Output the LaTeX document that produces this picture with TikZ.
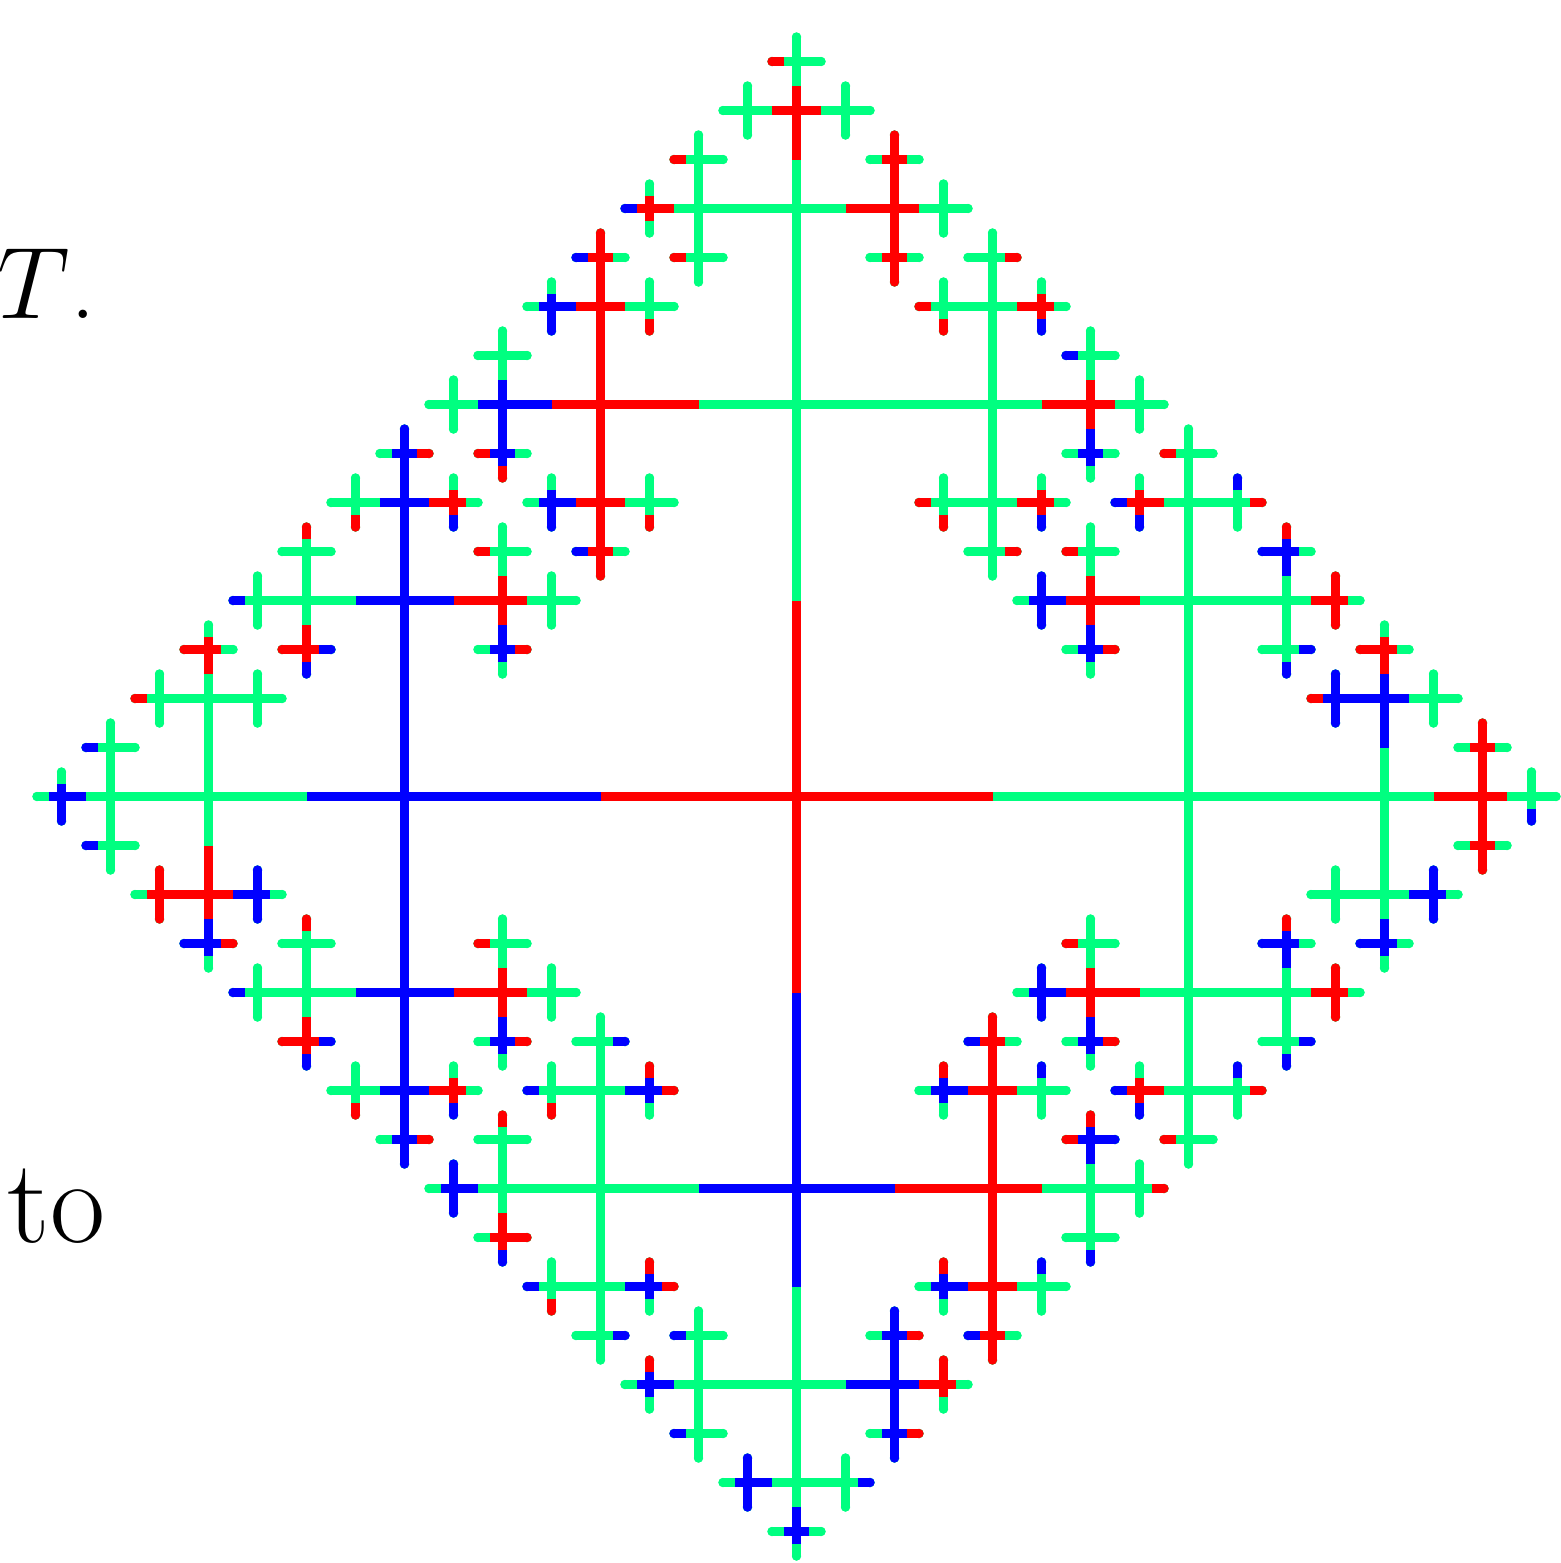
\RequirePackage{fix-cm}
\documentclass[tikz,border=0pt]{standalone}
\definecolor{gC}{RGB}{0,255,128}
\definecolor{rC}{RGB}{255,0,0}
\definecolor{bC}{RGB}{0,0,255}
\tikzset{
  seg/.style={line width=0.09cm,line cap=butt},
  baseseg/.style={line width=0.09cm,line cap=round},
  lbl/.style={inner sep=0pt,font=\fontsize{34}{36}\selectfont},
  lblT/.style={inner sep=0pt,font=\fontsize{29}{31}\selectfont}
}
\makeatletter
\def\dxU{0}\def\dyU{-1}\def\dxD{0}\def\dyD{1}
\def\dxL{-1}\def\dyL{0}\def\dxR{1}\def\dyR{0}
\newcommand\Vcalc[1]{%
  \def\vx{796.5}\def\vy{796.5}\def\vl{392}\def\vpl{0}\def\vb{N}%
  \edef\vpath{#1}\expandafter\v@parse\vpath\relax}
\def\v@parse#1{\ifx#1\relax\else\v@step#1\expandafter\v@parse\fi}
\def\v@step#1{%
  \let\vpl\vl
  \if#1U\pgfmathsetmacro\vy{\vy-\vl}\def\vb{D}\fi
  \if#1D\pgfmathsetmacro\vy{\vy+\vl}\def\vb{U}\fi
  \if#1L\pgfmathsetmacro\vx{\vx-\vl}\def\vb{R}\fi
  \if#1R\pgfmathsetmacro\vx{\vx+\vl}\def\vb{L}\fi
  \pgfmathsetmacro\vl{\vl/2}}
\newcommand\halfseg[4]{%
  \draw[#4,#1] (\vx,\vy) -- ++({\csname dx#2\endcsname*#3},{\csname dy#2\endcsname*#3});}
\newcommand\V[3][seg]{%
  \Vcalc{#2}%
  \if N\vb\else\halfseg{#3}{\vb}{\vpl/2}{#1}\fi
  \ifdim\vl pt>20pt
    \if U\vb\else\halfseg{#3}{U}{\vl/2}{#1}\fi
    \if D\vb\else\halfseg{#3}{D}{\vl/2}{#1}\fi
    \if L\vb\else\halfseg{#3}{L}{\vl/2}{#1}\fi
    \if R\vb\else\halfseg{#3}{R}{\vl/2}{#1}\fi
  \else
    \fill[#3] (\vx,\vy) circle (0.047cm);
  \fi}
\newcommand\G[1]{\begingroup\V[baseseg]{#1}{gC}%
  \ifdim\vl pt>20pt
    \edef\gb{\vb}%
    \if U\gb\else\G{#1U}\fi
    \if D\gb\else\G{#1D}\fi
    \if L\gb\else\G{#1L}\fi
    \if R\gb\else\G{#1R}\fi
  \fi\endgroup}
\newcommand\Vlist[2]{\foreach \p in {#2} {\V{\p}{#1}}}
\makeatother
\begin{document}
\begin{tikzpicture}[x=0.01cm,y=-0.01cm]
\useasboundingbox (0,0) rectangle (1561,1563);
% base tree, all green
\G{}
% red vertices
\V{}{rC}
\Vlist{rC}{UUU,UUUUL,UULUL,UULL,UULDL,UUR,UURU,UURUU,UURD,UURDD,
UL,ULU,ULUU,ULUUU,ULURD,ULLDL,ULLDD,ULD,ULDRD,ULDD,ULDDD,
URUUR,URULL,URULD,URUR,URR,URDLL,URDLD,URDR,URDDR,
LUUUR,LUULD,LUUR,LULUU,LULD,LULDL,LUR,LURUL,LURDR,
LLUU,LLUUL,LLULL,LLD,LLDL,LLDLU,LLDLD,LLDDR,
LDLUU,LDLD,LDLDL,LDR,LDRUL,LDRDR,LDDLD,LDDR,LDDDR,
DLULD,DLURU,DLURR,DLLUU,DLLD,DLLDR,DLDLD,DLDRU,DLDRR,
DDLLU,DDRUR,DDRR,DDRRU,DDRDR,
DR,DRU,DRUU,DRUUU,DRULU,DRRUU,DRRUL,DRRRR,DRD,DRDLU,DRDD,DRDDD,
RUUUL,RUUL,RUURR,RUL,RULUL,RULDR,RURUU,RURR,RURRU,RURRD,
RRUU,RRUUL,RRULL,RRR,RRRU,RRRUU,RRRD,RRRDD,
RDL,RDLUL,RDLDR,RDRUU,RDRR,RDRRU,RDRRD,RDDL,RDDRR,RDDDL}
% blue vertices
\Vlist{bC}{L,D,
UULLL,ULUUL,ULUL,ULULD,ULL,ULLD,ULDL,ULDLD,ULDDL,
URURD,URRUL,URRD,URDRD,
LU,LUU,LUUU,LUUUU,LUURD,LULLL,LULDR,LULDD,LURD,
LLLUL,LLLL,LLLLD,LLLDL,LLDR,LLDRU,LLDRD,LLDD,LLDDL,
LD,LDLLL,LDLDR,LDLDD,LDRD,LDD,LDDRD,LDDD,LDDDD,
DLUUR,DLULL,DLUR,DLLL,DLLLU,DLLLD,DLLDD,DLDLL,DLDR,DLDDR,
DDLUL,DDLL,DDLDL,DDDL,DDDLU,DDDLD,DDDRR,DDDD,DDR,DDRU,DDRUU,DDRD,DDRDD,
DRUUL,DRUL,DRURU,DRRU,DRRUR,DRRDD,DRDL,DRDRU,DRDDL,
RUULL,RUULD,RUURU,RULL,RULLU,RULLD,RULD,RURU,RURUL,RURDR,RURDD,
RRU,RRUL,RRULU,RRULD,RRRRD,RRDR,RRDRU,RRDRD,RRDD,RRDDL,
RDLL,RDLLU,RDLLD,RDLD,RDRU,RDRUL,RDRDR,RDRDD,RDDLL,RDDLD,RDDRU}
% text
\node[lblT,anchor=base west] (tT) at (-3,318) {$T$.};
\node[lbl,anchor=base west] (tto) at (7,1242) {to};
\end{tikzpicture}
\end{document}
